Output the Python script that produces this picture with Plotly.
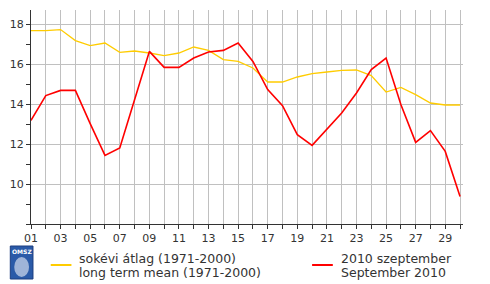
import plotly.graph_objects as go

days = list(range(1, 31))
mean_1971_2000 = [17.67, 17.67, 17.72, 17.17, 16.92, 17.05, 16.58, 16.65, 16.55, 16.42,
                  16.55, 16.85, 16.68, 16.22, 16.13, 15.8, 15.1, 15.1, 15.35, 15.52,
                  15.6, 15.68, 15.7, 15.42, 14.6, 14.83, 14.47, 14.05, 13.95, 13.95]
sept_2010 = [13.18, 14.42, 14.68, 14.68, 13.02, 11.43, 11.8, 14.22, 16.63, 15.83,
             15.83, 16.3, 16.6, 16.68, 17.05, 16.13, 14.72, 13.92, 12.47, 11.93,
             12.72, 13.55, 14.55, 15.72, 16.3, 13.97, 12.08, 12.67, 11.63, 9.38]
x_tickvals = list(range(1, 31, 2))
x_ticktext = ["%02d" % d for d in x_tickvals]
y_tickvals = [10, 12, 14, 16, 18]

legend_mean = ["sokévi átlag (1971-2000)", "long term mean (1971-2000)"]
legend_2010 = ["2010 szeptember", "September 2010"]

FONT = "DejaVu Sans"
TXT = "#333333"
GRID = "#c0c0c0"

fig = go.Figure()
fig.add_trace(go.Scatter(x=days, y=mean_1971_2000, mode="lines",
                         line=dict(color="#FFCC00", width=1.3), showlegend=False))
fig.add_trace(go.Scatter(x=days, y=sept_2010, mode="lines",
                         line=dict(color="#FF0000", width=1.6), showlegend=False))

fig.update_layout(
    width=490, height=284,
    margin=dict(l=25, r=27, t=10, b=60),
    paper_bgcolor="white", plot_bgcolor="white",
    font=dict(family=FONT, size=11, color=TXT),
    xaxis=dict(range=[1, 30.2], tickvals=x_tickvals, ticktext=x_ticktext,
               ticks="outside", ticklen=4, tickcolor=TXT, showgrid=True,
               gridcolor=GRID, gridwidth=1, showline=True, linecolor=TXT,
               linewidth=1, zeroline=False,
               minor=dict(dtick=1, tick0=1, ticks="outside", ticklen=4,
                          tickcolor=TXT, showgrid=True, gridcolor=GRID, gridwidth=1),
               tickfont=dict(size=11, color=TXT)),
    yaxis=dict(range=[8, 18.7], tickvals=y_tickvals, ticks="outside", ticklen=4,
               tickcolor=TXT, showgrid=True, gridcolor=GRID, gridwidth=1,
               showline=True, linecolor=TXT, linewidth=1, zeroline=False,
               minor=dict(dtick=1, tick0=8, ticks="outside", ticklen=4,
                          tickcolor=TXT, showgrid=False),
               tickfont=dict(size=11, color=TXT)),
)

def px(x):
    return (x - 25) / (490 - 25 - 27)

def py(y):
    return (284 - 60 - y) / (284 - 60 - 10)

shapes = []
annotations = []
shapes.append(dict(type="line", xref="paper", yref="paper", x0=px(45), x1=px(66),
                   y0=py(265), y1=py(265), line=dict(color="#FFCC00", width=2)))
shapes.append(dict(type="line", xref="paper", yref="paper", x0=px(310), x1=px(331),
                   y0=py(265), y1=py(265), line=dict(color="#FF0000", width=2)))
for i, t in enumerate(legend_mean):
    annotations.append(dict(text=t, xref="paper", yref="paper", x=px(72), y=py(258 + 14 * i),
                            xanchor="left", yanchor="middle", showarrow=False,
                            font=dict(family=FONT, size=12.5, color=TXT)))
for i, t in enumerate(legend_2010):
    annotations.append(dict(text=t, xref="paper", yref="paper", x=px(337), y=py(258 + 14 * i),
                            xanchor="left", yanchor="middle", showarrow=False,
                            font=dict(family=FONT, size=12.5, color=TXT)))
# OMSZ logo
shapes.append(dict(type="rect", xref="paper", yref="paper", x0=px(4), x1=px(27),
                   y0=py(279), y1=py(246), fillcolor="#2a5aa8", line=dict(color="#1d3f80", width=1)))
shapes.append(dict(type="circle", xref="paper", yref="paper", x0=px(8), x1=px(23),
                   y0=py(277), y1=py(257), fillcolor="rgba(255,255,255,0.55)", line=dict(width=0)))
annotations.append(dict(text="<b>OMSZ</b>", xref="paper", yref="paper", x=px(15.5), y=py(251),
                        xanchor="center", yanchor="middle", showarrow=False,
                        font=dict(family=FONT, size=6, color="white")))
fig.update_layout(shapes=shapes, annotations=annotations)

fig.write_html("out.html")
